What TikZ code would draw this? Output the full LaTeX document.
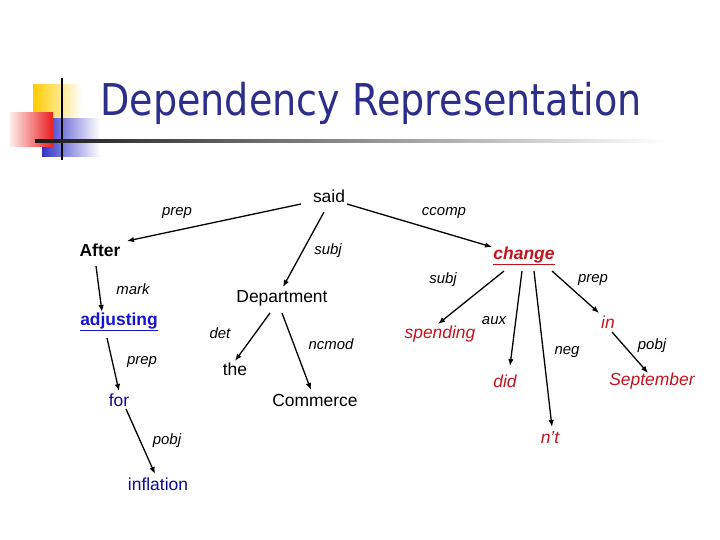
\documentclass[tikz,border=0pt]{standalone}
\usepackage{fontspec}
\setmainfont{Liberation Sans}
\newfontfamily\titlefont[FakeStretch=0.87]{DejaVu Sans}
\usetikzlibrary{arrows.meta}
\definecolor{titleblue}{RGB}{45,45,140}
\definecolor{wred}{RGB}{195,20,30}
\definecolor{wblue}{RGB}{20,20,200}
\definecolor{wnavy}{RGB}{10,10,150}
\definecolor{sqyellow}{RGB}{255,204,0}
\definecolor{sqred}{RGB}{235,30,30}
\definecolor{sqblue}{RGB}{50,50,200}
\begin{document}
\begin{tikzpicture}[x=1bp,y=-1bp,
  word/.style={inner sep=0pt,font=\fontsize{17.5}{20}\selectfont},
  rel/.style={inner sep=0pt,font=\fontsize{15}{18}\selectfont\itshape},
  redword/.style={word,text=wred,font=\fontsize{17.5}{20}\selectfont\itshape},
  arr/.style={line width=1.3bp,-{Latex[length=7bp,width=5.5bp]}}]
\useasboundingbox (0,0) rectangle (720,540);
% decoration
\shade[left color=sqyellow,middle color=sqyellow,right color=white] (33,85) rectangle (82,118);
\shade[left color=sqblue,middle color=sqblue,right color=white] (42,119) rectangle (100,157);
\shade[left color=sqred!8,right color=sqred] (10,113) rectangle (53,147);
\fill[black] (61.2,78) rectangle (62.8,160);
\shade[left color=black!90,right color=white] (35,140) rectangle (665,142.5);
\node[anchor=west,inner sep=0pt,text=titleblue,font=\titlefont\fontsize{44}{50}\selectfont] (title) at (100,103) {Dependency Representation};
% words
\node[word] (said) at (329,196) {said};
\node[word,font=\fontsize{17.5}{20}\selectfont\bfseries] (After) at (100,250) {After};
\node[word,text=wblue,font=\fontsize{17.5}{20}\selectfont\bfseries] (adjusting) at (119,322) {\underline{adjusting}};
\node[word,text=wnavy] (for) at (119,400) {for};
\node[word,text=wnavy] (inflation) at (158,484) {inflation};
\node[word] (Department) at (282,298) {Department};
\node[word] (the) at (235,369) {the};
\node[word] (Commerce) at (315,400) {Commerce};
\node[redword,font=\fontsize{17.5}{20}\selectfont\bfseries\itshape] (change) at (524,256) {\underline{change}};
\node[redword] (spending) at (440,334) {spending};
\node[redword] (did) at (505,381) {did};
\node[redword] (nt) at (550,438) {n't};
\node[redword] (in) at (608,322) {in};
\node[redword] (September) at (652,381) {September};
% relation labels
\node[rel] (l1) at (177,213) {prep};
\node[rel] (l2) at (444,213) {ccomp};
\node[rel] (l3) at (328,251) {subj};
\node[rel] (l4) at (133,289) {mark};
\node[rel] (l5) at (220,333) {det};
\node[rel] (l6) at (331,344) {ncmod};
\node[rel] (l7) at (142,362) {prep};
\node[rel] (l8) at (167,441) {pobj};
\node[rel] (l9) at (443,280) {subj};
\node[rel] (l10) at (593,280) {prep};
\node[rel] (l11) at (494,321) {aux};
\node[rel] (l12) at (567,352) {neg};
\node[rel] (l13) at (652,346) {pobj};
% edges
\draw[arr] ([shift={(-28,8)}]said.center) -- ([shift={(27,-9)}]After.center);
\draw[arr] ([shift={(-5,16)}]said.center) -- ([shift={(1,-11)}]Department.center);
\draw[arr] ([shift={(18,8)}]said.center) -- ([shift={(-32,-9)}]change.center);
\draw[arr] ([shift={(-4,16)}]After.center) -- ([shift={(-17,-10)}]adjusting.center);
\draw[arr] ([shift={(-12,16)}]adjusting.center) -- ([shift={(0,-9)}]for.center);
\draw[arr] ([shift={(7,9)}]for.center) -- ([shift={(-3,-10)}]inflation.center);
\draw[arr] ([shift={(-12,15)}]Department.center) -- ([shift={(0,-8)}]the.center);
\draw[arr] ([shift={(0,15)}]Department.center) -- ([shift={(-4,-10)}]Commerce.center);
\draw[arr] ([shift={(-20,15)}]change.center) -- ([shift={(-2,-10)}]spending.center);
\draw[arr] ([shift={(-2,15)}]change.center) -- ([shift={(5,-15)}]did.center);
\draw[arr] ([shift={(10,15)}]change.center) -- ([shift={(2,-11)}]nt.center);
\draw[arr] ([shift={(28,15)}]change.center) -- ([shift={(-9,-9)}]in.center);
\draw[arr] ([shift={(4,10)}]in.center) -- ([shift={(-4,-8)}]September.center);
\end{tikzpicture}
\end{document}
